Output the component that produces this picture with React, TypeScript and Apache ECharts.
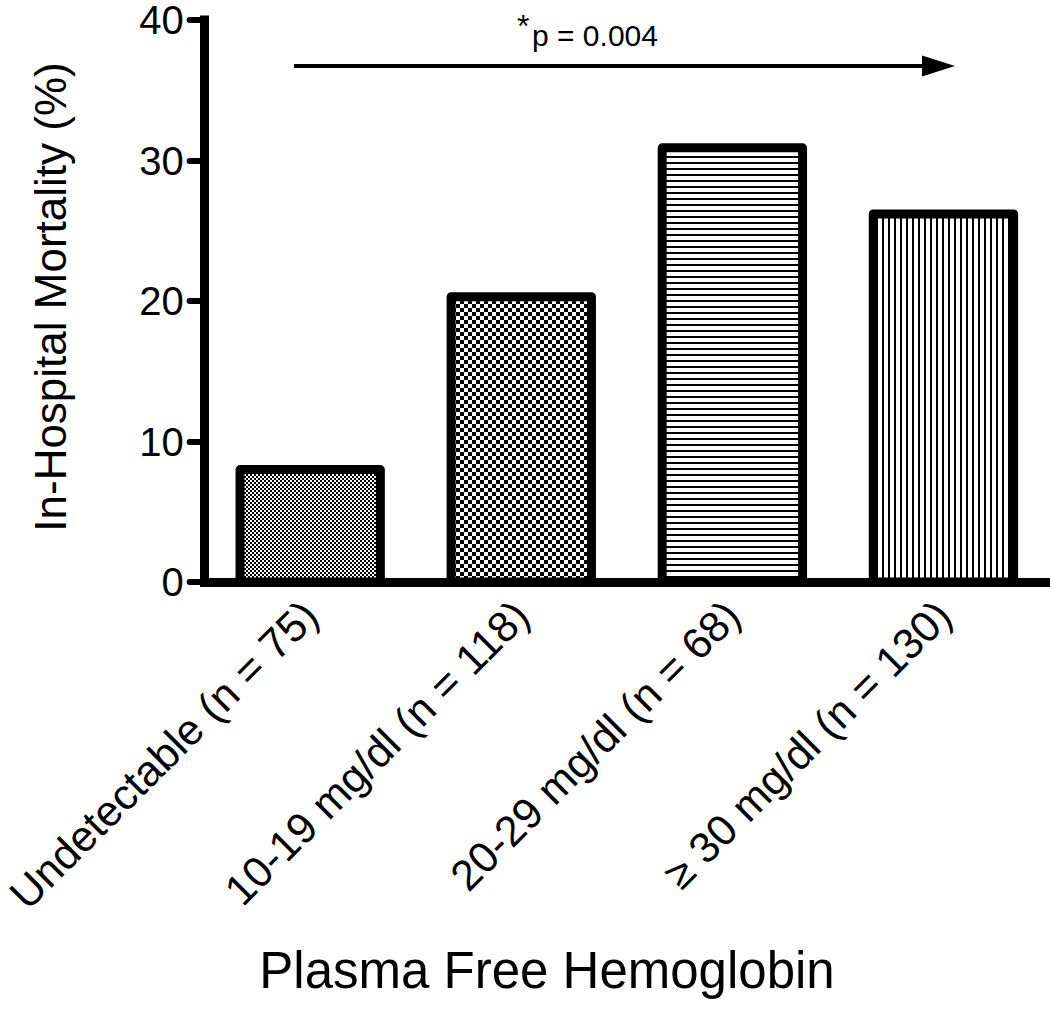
import React, { useEffect, useRef } from "react";
import * as echarts from "echarts";

const categories = [
  "Undetectable (n = 75)",
  "10-19 mg/dl (n = 118)",
  "20-29 mg/dl (n = 68)",
  "≥ 30 mg/dl (n = 130)",
];
const mortality = [8.0, 20.3, 30.9, 26.2];
const yTicks = { min: 0, max: 40, interval: 10 };
const pValueText = "p = 0.004";
const xTitle = "Plasma Free Hemoglobin";
const yTitle = "In-Hospital Mortality (%)";

const FONT = "'Liberation Sans', Arial, Helvetica, sans-serif";

function makePattern(kind: string): HTMLCanvasElement {
  const c = document.createElement("canvas");
  let size = 4;
  if (kind === "fine") size = 4;
  if (kind === "coarse") size = 8;
  if (kind === "hlines") size = 6;
  if (kind === "vlines") size = 6;
  c.width = size;
  c.height = size;
  const ctx = c.getContext("2d")!;
  ctx.fillStyle = "#fff";
  ctx.fillRect(0, 0, size, size);
  ctx.fillStyle = "#000";
  if (kind === "fine") {
    ctx.fillRect(0, 0, 2, 2);
    ctx.fillRect(2, 2, 2, 2);
  } else if (kind === "coarse") {
    ctx.fillRect(0, 0, 4, 4);
    ctx.fillRect(4, 4, 4, 4);
  } else if (kind === "hlines") {
    ctx.fillRect(0, 0, size, 2);
  } else if (kind === "vlines") {
    ctx.fillRect(0, 0, 2, size);
  }
  return c;
}

export default function App() {
  const ref = useRef<HTMLDivElement>(null);
  useEffect(() => {
    if (!ref.current) return;
    const chart = echarts.init(ref.current, null, { renderer: "svg" });
    const patterns = ["fine", "coarse", "hlines", "vlines"].map((k) => ({
      image: makePattern(k),
      repeat: "repeat",
    }));
    const LW = 9;
    const BAR_FRAC = 150 / 212;
    chart.setOption({
      animation: false,
      backgroundColor: "#fff",
      grid: { left: 201.5, right: 1, top: 16, bottom: 1018 - 582, containLabel: false },
      xAxis: {
        type: "category",
        data: categories,
        boundaryGap: true,
        axisLine: { lineStyle: { color: "#000", width: 9, cap: "square" } },
        axisTick: {
          alignWithLabel: true,
          length: 15,
          lineStyle: { color: "#000", width: 6, cap: "round" },
        },
        axisLabel: {
          interval: 0,
          rotate: 45,
          margin: 26,
          color: "#000",
          fontFamily: FONT,
          fontSize: 43,
        },
        splitLine: { show: false },
      },
      yAxis: {
        type: "value",
        min: yTicks.min,
        max: yTicks.max,
        interval: yTicks.interval,
        axisLine: { show: true, lineStyle: { color: "#000", width: 9, cap: "square" } },
        axisTick: { show: true, length: 15, lineStyle: { color: "#000", width: 6, cap: "round" } },
        axisLabel: {
          margin: 21,
          color: "#000",
          fontFamily: FONT,
          fontSize: 40,
          lineHeight: 30,
        },
        splitLine: { show: false },
      },
      series: [
        {
          type: "custom",
          data: mortality.map((v, i) => [i, v]),
          encode: { x: 0, y: 1 },
          renderItem: (params: any, api: any) => {
            const idx = api.value(0);
            const v = api.value(1);
            const top = api.coord([idx, v]);
            const base = api.coord([idx, 0]);
            const band = api.size([1, 0])[0];
            const w = band * BAR_FRAC;
            const y0 = top[1];
            return {
              type: "rect",
              shape: {
                x: top[0] - w / 2 + LW / 2,
                y: y0,
                width: w - LW,
                height: base[1] - y0,
              },
              style: {
                fill: patterns[idx],
                stroke: "#000",
                lineWidth: LW,
                lineJoin: "round",
              },
            };
          },
        },
      ],
      graphic: [
        {
          type: "text",
          x: 50,
          y: 297,
          rotation: Math.PI / 2,
          style: {
            text: yTitle,
            fontFamily: FONT,
            fontSize: 44,
            fill: "#000",
            align: "center",
            verticalAlign: "middle",
          },
        },
        {
          type: "text",
          x: 547,
          y: 970,
          style: {
            text: xTitle,
            fontFamily: FONT,
            fontSize: 51,
            fill: "#000",
            align: "center",
            verticalAlign: "middle",
          },
        },
        {
          type: "line",
          shape: { x1: 294, y1: 66, x2: 926, y2: 66 },
          style: { stroke: "#000", lineWidth: 4 },
        },
        {
          type: "polygon",
          shape: { points: [[922, 55.5], [955, 66], [922, 76.5]] },
          style: { fill: "#000" },
        },
        {
          type: "text",
          x: 517,
          y: 26,
          style: {
            text: "*",
            fontFamily: FONT,
            fontSize: 32,
            fill: "#000",
            align: "left",
            verticalAlign: "middle",
          },
        },
        {
          type: "text",
          x: 532,
          y: 35,
          style: {
            text: pValueText,
            fontFamily: FONT,
            fontSize: 30,
            fill: "#000",
            align: "left",
            verticalAlign: "middle",
          },
        },
      ],
    });
    return () => chart.dispose();
  }, []);
  return (
    <div
      ref={ref}
      style={{ position: "fixed", left: 0, top: 0, width: 1050, height: 1018 }}
    />
  );
}
